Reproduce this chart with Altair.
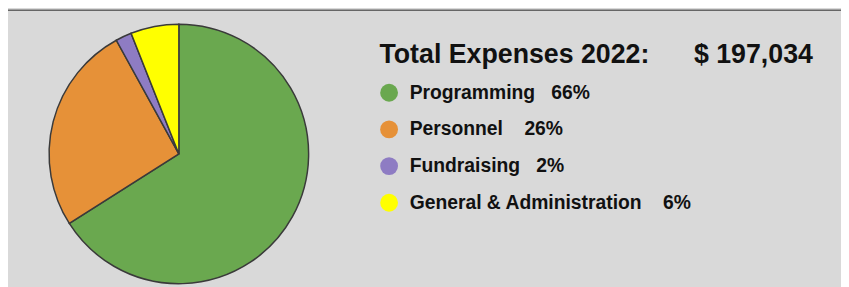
import altair as alt
import pandas as pd

categories = ["Programming", "Personnel", "Fundraising", "General & Administration"]
percents = [66, 26, 2, 6]
colors = ["#6aa84f", "#e69138", "#8e7cc3", "#ffff00"]
gaps = [3, 4, 3, 4]
title_left = "Total Expenses 2022:"
title_right = "$ 197,034"

NB = "\u00a0"
labels = [f"{c}{NB * g}{p}%" for c, g, p in zip(categories, gaps, percents)]
df = pd.DataFrame({"label": labels, "value": percents, "order": list(range(len(labels)))})

W, H = 841, 279
FONT = "Liberation Sans"

pie = alt.Chart(df).mark_arc(radius=131, stroke="#3a3a3a", strokeWidth=1.5).encode(
    theta=alt.Theta("value:Q", stack=True),
    order=alt.Order("order:Q"),
    color=alt.Color(
        "label:N",
        scale=alt.Scale(domain=labels, range=colors),
        legend=alt.Legend(
            title=title_left + NB * 6 + title_right,
            orient="none",
            legendX=375,
            legendY=33,
            titleFont=FONT,
            titleFontSize=27,
            titleFontWeight="bold",
            titleColor="#111111",
            titleLimit=700,
            titlePadding=14.5,
            labelFont=FONT,
            labelFontSize=19.5,
            labelFontWeight="bold",
            labelColor="#111111",
            labelLimit=500,
            labelOffset=11,
            symbolType="circle",
            symbolSize=324,
            symbolStrokeWidth=0,
            symbolOpacity=1,
            rowPadding=16,
        ),
    ),
    x=alt.value(172.5),
    y=alt.value(146),
)

rule = alt.Chart(pd.DataFrame({"a": [0]})).mark_rule(color="#666666", strokeWidth=1.5).encode(
    x=alt.value(0), x2=alt.value(W), y=alt.value(1)
)

chart = (
    alt.layer(rule, pie)
    .properties(
        width=W,
        height=H,
        autosize=alt.AutoSizeParams(type="none"),
        padding=0,
        background="#d9d9d9",
    )
    .configure_view(strokeWidth=0)
)

chart.save("out.html", embed_options={"renderer": "svg", "actions": False})
